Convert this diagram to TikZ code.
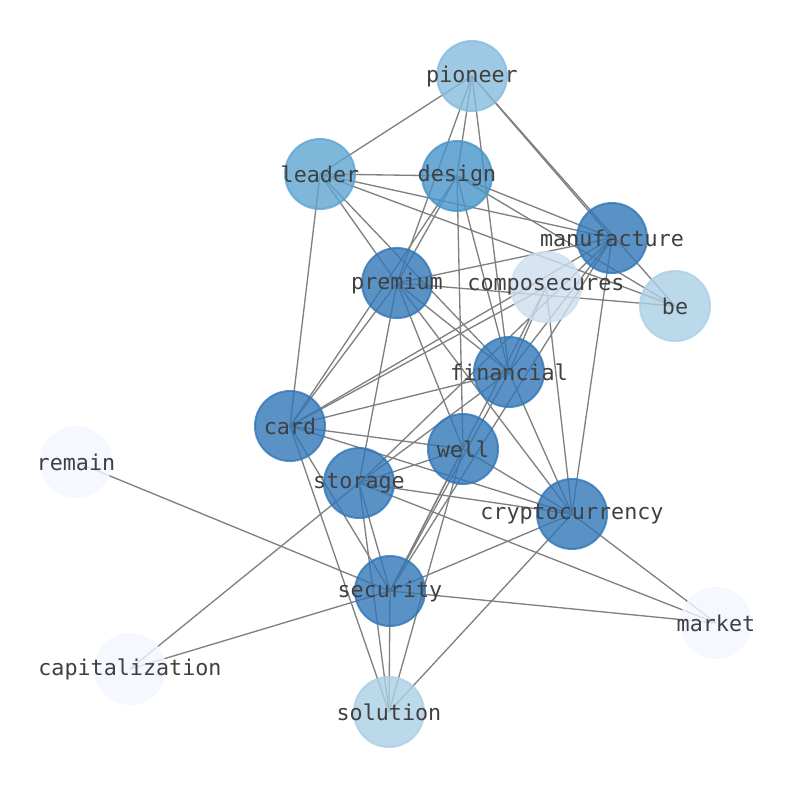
\documentclass[tikz,border=0pt]{standalone}
\usepackage{fontspec}
\setmonofont{DejaVu Sans Mono}
\usepackage{xcolor}
\usepackage{tikz}
\usetikzlibrary{positioning}

\definecolor{blueA}{RGB}{50,119,184}
\definecolor{blueB}{RGB}{71,149,202}
\definecolor{blueC}{RGB}{95,165,209}
\definecolor{blueD}{RGB}{133,188,221}
\definecolor{blueE}{RGB}{170,208,229}
\definecolor{blueF}{RGB}{205,223,239}
\definecolor{blueG}{RGB}{242,248,255}

\pgfdeclarelayer{background}
\pgfsetlayers{background,main}

\tikzset{
  word/.style={circle, minimum size=52.5pt, inner sep=0pt, line width=1.5pt,
    fill opacity=0.8, draw opacity=0.8},
  wordtext/.style={inner sep=0pt, text=black!75,
    font=\ttfamily\fontsize{16.3}{18}\selectfont},
  edge/.style={draw=black!50, line width=1pt}
}

\begin{document}
\begin{tikzpicture}[x=0.75pt, y=-0.75pt]
\useasboundingbox (0,0) rectangle (794,790);

\node[word, fill=blueD, draw=blueD] (pioneer) at (472,76) {};
\node[word, fill=blueC, draw=blueC] (leader) at (320,174) {};
\node[word, fill=blueB, draw=blueB] (design) at (457,176) {};
\node[word, fill=blueA, draw=blueA] (manufacture) at (612,238) {};
\node[word, fill=blueF, draw=blueF] (composecures) at (546,287) {};
\node[word, fill=blueE, draw=blueE] (be) at (675,306) {};
\node[word, fill=blueA, draw=blueA] (premium) at (397,283) {};
\node[word, fill=blueA, draw=blueA] (financial) at (509,372) {};
\node[word, fill=blueA, draw=blueA] (card) at (290,426) {};
\node[word, fill=blueA, draw=blueA] (well) at (463,449) {};
\node[word, fill=blueG, draw=blueG] (remain) at (76,462) {};
\node[word, fill=blueA, draw=blueA] (storage) at (359,483) {};
\node[word, fill=blueA, draw=blueA] (crypto) at (572,514) {};
\node[word, fill=blueA, draw=blueA] (security) at (390,591) {};
\node[word, fill=blueG, draw=blueG] (market) at (716,623) {};
\node[word, fill=blueG, draw=blueG] (capitalization) at (130,669) {};
\node[word, fill=blueE, draw=blueE] (solution) at (389,712) {};

% words
\foreach \n/\t in {pioneer/pioneer, leader/leader, design/design, manufacture/manufacture,
    composecures/composecures, be/be, premium/premium, financial/financial, card/card,
    well/well, remain/remain, storage/storage, crypto/cryptocurrency, security/security,
    market/market, capitalization/capitalization, solution/solution}
  \node[wordtext] (\n-t) at (\n.center) {\t};

% links
\begin{pgfonlayer}{background}
\foreach \a/\b in {pioneer/leader, pioneer/design, pioneer/premium, pioneer/financial,
    pioneer/manufacture, pioneer/be,
    leader/design, leader/manufacture, leader/be, leader/card, leader/premium, leader/financial,
    design/manufacture, design/be, design/premium, design/card, design/well, design/financial,
    manufacture/premium, manufacture/crypto, manufacture/financial, manufacture/card,
    manufacture/storage, manufacture/security,
    premium/storage, premium/well, premium/crypto, premium/financial, premium/card, premium/be,
    composecures/crypto, composecures/financial, composecures/security, composecures/card,
    financial/card, financial/security, financial/crypto, financial/storage,
    card/well, card/crypto, card/security, card/solution,
    well/storage, well/crypto, well/security, well/solution,
    storage/crypto, storage/market, storage/capitalization, storage/security, storage/solution,
    crypto/security, crypto/solution, crypto/market,
    security/remain, security/capitalization, security/market, security/solution}
  \draw[edge] (\a.center) -- (\b.center);
\end{pgfonlayer}
\end{tikzpicture}
\end{document}
